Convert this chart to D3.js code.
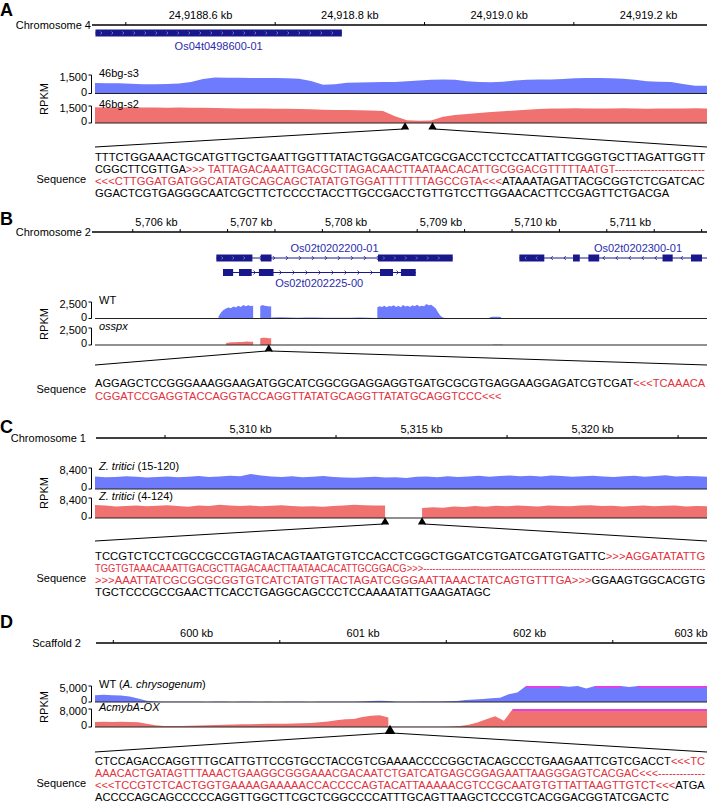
<!DOCTYPE html>
<html>
<head>
<meta charset="utf-8">
<script src="https://cdn.jsdelivr.net/npm/d3@7"></script>
<style>
  body { margin: 0; background: #fff; }
  svg { display: block; font-family: "Liberation Sans", Arial, Helvetica, sans-serif; }
</style>
</head>
<body>
<svg id="fig" width="708" height="802"></svg>
<script>
// ---------------- Panel A data ----------------
const domainA = [24918.4594, 24919.279];
const ticksA = [24918.6, 24918.8, 24919.0, 24919.2];
const tickLabelsA = ["24,9188.6 kb", "24,918.8 kb", "24,919.0 kb", "24,919.2 kb"];
const minorA = [24918.5, 24918.7, 24918.9, 24919.1];
const geneA = [[24918.46, 24918.79]];
// coverage, evenly binned across the view (RPKM)
const s3A = [860, 840, 830, 790, 760, 750, 780, 820, 930, 1170, 1290, 1280, 1280, 1260, 1260, 1250,
  1240, 1200, 1020, 700, 750, 870, 900, 920, 930, 940, 990, 1050, 1120, 1140, 1110, 990, 930, 920,
  960, 1050, 1110, 1130, 1140, 1170, 1230, 1260, 1250, 1230, 1200, 1110, 990, 960, 930, 780, 630, 630];
const s2A = [1380, 1370, 1360, 1380, 1370, 1360, 1350, 1360, 1350, 1340, 1320, 1300, 1290, 1280, 1270,
  1260, 1250, 1240, 1220, 1180, 1150, 1140, 1130, 1100, 1050, 600, 240, 190, 220, 560, 700, 800, 880,
  960, 1030, 1100, 1170, 1240, 1280, 1290, 1300, 1290, 1280, 1290, 1300, 1280, 1260, 1270, 1280, 1290, 1300, 1290];
const triA = [24918.8746, 24918.9114];
const seqA = [
  [["TTTCTGGAAACTGCATGTTGCTGAATTGGTTTATACTGGACGATCGCGACCTCCTCCATTATTCGGGTGCTTAGATTGGTT", 0]],
  [["CGGCTTCGTTGA", 0], [">>> TATTAGACAAATTGACGCTTAGACAACTTAATAACACATTGCGGACGTTTTTAATGT-------------------------", 1]],
  [["<<<CTTGGATGATGGCATATGCAGCAGCTATATGTGGATTTTTTTAGCCGTA<<<", 1], ["ATAAATAGATTACGCGGTCTCGATCAC", 0]],
  [["GGACTCGTGAGGGCAATCGCTTCTCCCCTACCTTGCCGACCTGTTGTCCTTGGAACACTTCCGAGTTCTGACGA", 0]]
];
const seqAFull = [true, true, true, false];

// ---------------- Panel B data ----------------
const domainB = [5705.357, 5711.812];
const ticksB = [5706, 5707, 5708, 5709, 5710, 5711];
const tickLabelsB = ["5,706 kb", "5,707 kb", "5,708 kb", "5,709 kb", "5,710 kb", "5,711 kb"];
const minorB = [5705.75, 5706.25, 5706.75, 5707.25, 5707.75, 5708.25, 5708.75, 5709.25, 5709.75, 5710.25, 5710.75, 5711.25, 5711.75];
const gene200Exons = [[5706.637, 5707.017], [5707.105, 5707.219], [5708.342, 5709.130]];
const gene225Exons = [[5706.707, 5706.814], [5706.876, 5707.010], [5707.086, 5707.240], [5708.363, 5708.500], [5708.584, 5708.740]];
const gene300Exons = [[5709.833, 5710.096], [5710.399, 5710.470], [5710.561, 5710.675], [5711.343, 5711.450], [5711.643, 5711.759]];
const wtB1 = [300, 900, 1300, 1500, 1650, 1550, 1800, 1650, 1950, 1750, 2050, 1850, 2000, 1900, 1950];
const wtB2 = [1850, 2050, 1950, 1900, 1800, 1850];
const wtB3 = [150, 180, 160, 120, 150, 140, 110, 130, 100, 120, 140, 100, 90];
const wtB4 = [1700, 1850, 1750, 1950, 1700, 1900, 1800, 2000, 1750, 1950, 1700, 2050, 1800, 1950, 1750,
  2000, 1850, 2100, 1800, 1950, 1850, 2200, 2000, 2100, 1800, 1500, 900, 400, 150, 80];
const wtB5 = [200, 260, 280, 250, 220];
const osspxB1 = [300, 380, 420, 400, 430, 450, 470, 500, 480, 460];
const osspxB2 = [1000, 1080, 1050, 1000, 980];
const osspxB3 = [60, 60, 60];
const triB = [5707.19];
const seqB = [
  [["AGGAGCTCCGGGAAAGGAAGATGGCATCGGCGGAGGAGGTGATGCGCGTGAGGAAGGAGATCGTCGAT", 0], ["<<<TCAAACA", 1]],
  [["CGGATCCGAGGTACCAGGTACCAGGTTATATGCAGGTTATATGCAGGTCCC<<<", 1]]
];
const seqBFull = [true, false];

// ---------------- Panel C data ----------------
const domainC = [5305.468, 5323.36];
const ticksC = [5310, 5315, 5320];
const tickLabelsC = ["5,310 kb", "5,315 kb", "5,320 kb"];
const minorC = [5307.5, 5312.5, 5317.5, 5322.5];
const ztC15 = [5000, 4700, 4800, 5100, 4900, 4600, 4800, 5000, 4700, 4900, 5200, 4800, 5000, 5300, 5100,
  6000, 5400, 5000, 4800, 5100, 4700, 4900, 5200, 4800, 4600, 4500, 4700, 4900, 4600, 4700, 4400, 4900,
  5000, 4700, 5100, 4800, 5000, 5300, 4900, 5200, 5400, 5100, 5300, 5000, 5400, 5200, 4900, 5100, 5300,
  5000, 4800, 5100, 5300, 4900, 5200, 5500, 5000, 5200, 5100, 4900];
const ztC4Left = [5500, 5200, 4800, 5000, 5300, 4900, 5100, 5400, 5000, 4700, 5200, 5000, 5600, 5300, 5000,
  5200, 4900, 5100, 5400, 5000, 4800, 4900, 4700, 5000, 5300, 5600, 5400, 5300, 5200];
const ztC4Right = [4200, 4500, 4300, 4800, 4600, 5000, 4700, 5100, 4900, 5200, 5000, 4800, 5300, 5000, 4900,
  5200, 5400, 5000, 5100, 4800, 5000, 5300, 4900, 5100, 5200, 4800, 5000, 4900];
const triC = [5313.948, 5315.03];
const seqC = [
  [["TCCGTCTCCTCGCCGCCGTAGTACAGTAATGTGTCCACCTCGGCTGGATCGTGATCGATGTGATTC", 0], [">>>AGGATATATTG", 1]],
  [["TGGTGTAAACAAATTGACGCTTAGACAACTTAATAACACATTGCGGACG>>>------------------------------------------------------------------------------------------", 1]],
  [[">>>AAATTATCGCGCGCGGTGTCATCTATGTTACTAGATCGGGAATTAAACTATCAGTGTTTGA>>>", 1], ["GGAAGTGGCACGTG", 0]],
  [["TGCTCCCGCCGAACTTCACCTGAGGCAGCCCTCCAAAATATTGAAGATAGC", 0]]
];
const seqCFull = [true, true, true, false];

// ---------------- Panel D data ----------------
const domainD = [599.393, 603.069];
const ticksD = [600, 601, 602, 603];
const tickLabelsD = ["600 kb", "601 kb", "602 kb", "603 kb"];
const minorD = [599.5, 600.5, 601.5, 602.5];
const wtD = [2100, 2300, 2100, 2000, 1700, 1100, 400, 150, 60, 40, 50, 60, 40, 30, 50, 40, 30, 40, 50, 30,
  40, 30, 40, 50, 40, 30, 40, 50, 40, 50, 60, 150, 350, 400, 300, 80, 40, 60, 150, 180, 150, 200, 350, 600,
  800, 900, 1200, 1300, 2400, 3000, 6000, 6000, 6000, 6000, 6000, 4800, 6000, 4200, 6000, 6000, 6000, 6000,
  4700, 6000, 6000, 6000, 6000, 6000, 6000, 6000, 6000, 6000];
const oxDLeft = [2200, 2300, 2200, 2300, 2200, 2100, 1500, 800, 500, 450, 500, 600, 700, 800, 900, 1000,
  1100, 1200, 1250, 1300, 1400, 1500, 1450, 1600, 1700, 1800, 2100, 2500, 3000, 3400, 3600, 4400, 5000, 5200, 4200];
const oxDRight = [100, 120, 100, 120, 100, 120, 150, 200, 500, 1000, 2000, 3500, 4800, 2800, 9000, 9000, 9000,
  9000, 9000, 9000, 9000, 9000, 9000, 9000, 9000, 9000, 9000, 9000, 9000, 9000, 9000, 9000, 9000, 9000, 9000, 9000, 9000];
const triD = [601.165];
const seqD = [
  [["CTCCAGACCAGGTTTGCATTGTTCCGTGCCTACCGTCGAAAACCCCGGCTACAGCCCTGAAGAATTCGTCGACCT", 0], ["<<<TC", 1]],
  [["AAACACTGATAGTTTAAACTGAAGGCGGGAAACGACAATCTGATCATGAGCGGAGAATTAAGGGAGTCACGAC<<<-------------", 1]],
  [["<<<TCCGTCTCACTGGTGAAAAGAAAAACCACCCCAGTACATTAAAAACGTCCGCAATGTGTTATTAAGTTGTCT<<<", 1], ["ATGA", 0]],
  [["ACCCCAGCAGCCCCCAGGTTGGCTTCGCTCGGCCCCATTTGCAGTTAAGCTCCCGTCACGGACGGTATCGACTC", 0]]
];
const seqDFull = [true, true, true, false];

// ---------------- drawing ----------------
const svg = d3.select("#fig");
const FONT = '"Liberation Sans", Arial, Helvetica, sans-serif';
const BLUE = "#6e7bfd", RED = "#f07270", NAVY = "#18188c", GENE_TXT = "#2b2bad";
const SEQ_RED = "#e3313d", CLIP = "#e040e8";
const X0 = 95, X1 = 707;

function drawAxis(p) {
  const g = svg.append("g");
  g.append("text").attr("x", 0).attr("y", p.letterY)
    .attr("font-size", 18).attr("font-weight", "bold").text(p.letter);
  g.append("text").attr("x", p.chromX).attr("y", p.axisY + 4)
    .attr("text-anchor", "end").attr("font-size", 11).text(p.chrom);
  g.append("line").attr("x1", p.axisX0).attr("x2", X1)
    .attr("y1", p.axisY).attr("y2", p.axisY)
    .attr("stroke", "#000").attr("stroke-width", 1.3);

  const major = d3.axisTop(p.x).tickValues(p.ticks).tickSize(0)
    .tickPadding(p.axisY - p.tickY).tickFormat((d, i) => p.tickLabels[i]);
  const ax = g.append("g").attr("transform", `translate(0,${p.axisY})`).call(major)
    .attr("font-family", FONT).attr("font-size", 11)
    .call(a => a.select(".domain").remove());
  // keep the last label inside the figure
  ax.selectAll("text").each(function () {
    const b = this.getBBox(), right = p.x(this.__data__) + b.x + b.width;
    if (right > 707) d3.select(this).attr("dx", 707 - right);
  });

  const minor = d3.axisTop(p.x).tickValues(p.minor).tickSize(3).tickFormat("");
  g.append("g").attr("transform", `translate(0,${p.axisY})`).call(minor)
    .call(a => a.select(".domain").remove());
}

function drawTrack(p, t) {
  const g = svg.append("g");
  const y = d3.scaleLinear().domain([0, t.max]).range([t.base, t.top]);
  t.segs.forEach(seg => {
    const n = seg.values.length;
    const pts = seg.values.map((v, i) => [seg.start + i * (seg.end - seg.start) / (n - 1), v]);
    const area = d3.area().x(d => p.x(d[0])).y0(t.base).y1(d => y(Math.min(d[1], t.max)));
    g.append("path").datum(pts).attr("d", area).attr("fill", t.color);
    const clip = d3.line().defined(d => d[1] > t.max).x(d => p.x(d[0])).y(t.top + 1);
    g.append("path").datum(pts).attr("d", clip).attr("fill", "none")
      .attr("stroke", CLIP).attr("stroke-width", 2);
  });
  g.append("line").attr("x1", X0).attr("x2", X1).attr("y1", t.base).attr("y2", t.base)
    .attr("stroke", "#222").attr("stroke-width", 1.2);

  // track name
  const nm = g.append("text").attr("x", 99).attr("y", t.top + 2).attr("font-size", 11);
  t.name.forEach(([s, it]) => nm.append("tspan").attr("font-style", it ? "italic" : "normal").text(s));

  // data range bracket
  g.append("path").attr("d", `M88.5,${t.top}H91.5V${t.base}H88.5`)
    .attr("fill", "none").attr("stroke", "#000").attr("stroke-width", 1);
  g.append("text").attr("x", 87).attr("y", t.top + 6).attr("text-anchor", "end")
    .attr("font-size", 11).text(t.maxLabel);
  g.append("text").attr("x", 87).attr("y", t.base + 2).attr("text-anchor", "end")
    .attr("font-size", 11).text("0");
}

function drawZoom(p) {
  const g = svg.append("g");
  const tri = d3.symbol(d3.symbolTriangle).size(p.triSize || 30);
  p.tri.forEach(k => {
    g.append("path").attr("d", tri).attr("transform", `translate(${p.x(k)},${p.triY + 3})`).attr("fill", "#000");
  });
  const xl = p.x(p.tri[0]), xr = p.x(p.tri[p.tri.length - 1]);
  g.append("line").attr("x1", xl - 2).attr("y1", p.triY + 5).attr("x2", X0).attr("y2", p.lineY)
    .attr("stroke", "#000").attr("stroke-width", 1);
  g.append("line").attr("x1", xr + 2).attr("y1", p.triY + 5).attr("x2", X1).attr("y2", p.lineY)
    .attr("stroke", "#000").attr("stroke-width", 1);
}

function drawSequence(p) {
  const g = svg.append("g");
  const W = X1 - X0 - 1;
  let ratio = 1;
  p.seq.forEach((row, i) => {
    const t = g.append("text").attr("x", 0).attr("y", 0).attr("font-size", 11);
    row.forEach(([s, red]) => t.append("tspan").attr("fill", red ? SEQ_RED : "#000").text(s));
    const natural = t.node().getComputedTextLength();
    if (i === 0) ratio = W / natural;
    const sx = p.full[i] ? W / natural : ratio;
    t.attr("transform", `translate(${X0},${p.rowY + i * p.rowDy}) scale(${sx},1)`);
  });
  g.append("text").attr("x", 86).attr("y", p.seqLabelY).attr("text-anchor", "end")
    .attr("font-size", 11).text("Sequence");
}

function drawRPKM(y) {
  svg.append("text").attr("transform", `translate(48,${y}) rotate(-90)`)
    .attr("text-anchor", "middle").attr("font-size", 11).text("RPKM");
}

function drawGene(p, exons, rowY, label, labelPos, labelY, dir, spanEnd) {
  const g = svg.append("g");
  const h = 7;
  const s = p.x(exons[0][0]), e = p.x(spanEnd ?? exons[exons.length - 1][1]);
  g.append("line").attr("x1", s).attr("x2", e).attr("y1", rowY).attr("y2", rowY)
    .attr("stroke", NAVY).attr("stroke-width", 1);
  // strand marks along the intron line
  g.selectAll(".ar").data(d3.range(s + 6, e - 3, 13)).join("path")
    .attr("d", d => dir > 0 ? `M${d - 1.5},${rowY - 2}L${d + 0.5},${rowY}L${d - 1.5},${rowY + 2}`
                             : `M${d + 1.5},${rowY - 2}L${d - 0.5},${rowY}L${d + 1.5},${rowY + 2}`)
    .attr("fill", "none").attr("stroke", NAVY).attr("stroke-width", 0.8);
  g.selectAll("rect").data(exons).join("rect")
    .attr("x", d => p.x(d[0])).attr("width", d => p.x(d[1]) - p.x(d[0]))
    .attr("y", rowY - h / 2).attr("height", h).attr("fill", NAVY);
  // faint strand marks inside long exons
  exons.forEach(d => {
    const a = p.x(d[0]), b = p.x(d[1]);
    if (b - a < 20) return;
    g.selectAll(null).data(d3.range(a + 6, b - 3, 11)).join("path")
      .attr("d", v => dir > 0 ? `M${v - 1},${rowY - 1.5}L${v + 0.5},${rowY}L${v - 1},${rowY + 1.5}`
                              : `M${v + 1},${rowY - 1.5}L${v - 0.5},${rowY}L${v + 1},${rowY + 1.5}`)
      .attr("fill", "none").attr("stroke", "#9a9ae0").attr("stroke-width", 0.7);
  });
  g.append("text").attr("x", p.x(labelPos)).attr("y", labelY).attr("text-anchor", "middle")
    .attr("fill", GENE_TXT).attr("font-size", 11).text(label);
}

// ---------- Panel A ----------
const pA = {
  letter: "A", letterY: 16, chrom: "Chromosome 4", chromX: 91, axisX0: 92, axisY: 25, tickY: 19,
  x: d3.scaleLinear().domain(domainA).range([X0, X1]),
  ticks: ticksA, tickLabels: tickLabelsA, minor: minorA,
  tri: triA, triY: 124, lineY: 147,
  seq: seqA, full: seqAFull, rowY: 161, rowDy: 12.1, seqLabelY: 183
};
drawAxis(pA);
drawGene(pA, geneA, 33, "Os04t0498600-01", (geneA[0][0] + geneA[0][1]) / 2, 50, 1);
drawTrack(pA, { segs: [{ start: domainA[0], end: domainA[1], values: s3A }], top: 75, base: 93.5, max: 1500,
  color: BLUE, name: [["46bg-s3", 0]], maxLabel: "1,500" });
drawTrack(pA, { segs: [{ start: domainA[0], end: domainA[1], values: s2A }], top: 106, base: 123, max: 1500,
  color: RED, name: [["46bg-s2", 0]], maxLabel: "1,500" });
drawRPKM(99);
drawZoom(pA);
drawSequence(pA);

// ---------- Panel B ----------
const pB = {
  letter: "B", letterY: 225, chrom: "Chromosome 2", chromX: 91, axisX0: 92, axisY: 232, tickY: 226,
  x: d3.scaleLinear().domain(domainB).range([X0, X1]),
  ticks: ticksB, tickLabels: tickLabelsB, minor: minorB,
  tri: triB, triY: 346, lineY: 365,
  seq: seqB, full: seqBFull, rowY: 387, rowDy: 12.6, seqLabelY: 393
};
drawAxis(pB);
drawGene(pB, gene200Exons, 258, "Os02t0202200-01", 5707.884, 252, 1);
drawGene(pB, gene225Exons, 272.5, "Os02t0202225-00", 5707.722, 287, 1);
drawGene(pB, gene300Exons, 258, "Os02t0202300-01", 5711.084, 252, -1, domainB[1]);
drawTrack(pB, { segs: [
    { start: 5706.66, end: 5707.025, values: wtB1 },
    { start: 5707.10, end: 5707.215, values: wtB2 },
    { start: 5707.215, end: 5708.335, values: wtB3 },
    { start: 5708.335, end: 5709.05, values: wtB4 },
    { start: 5709.52, end: 5709.64, values: wtB5 }],
  top: 302, base: 318.5, max: 2500, color: BLUE, name: [["WT", 0]], maxLabel: "2,500" });
drawTrack(pB, { segs: [
    { start: 5706.74, end: 5707.025, values: osspxB1 },
    { start: 5707.10, end: 5707.215, values: osspxB2 },
    { start: 5709.55, end: 5709.66, values: osspxB3 }],
  top: 328, base: 345, max: 2500, color: RED, name: [["osspx", 1]], maxLabel: "2,500" });
drawRPKM(324);
drawZoom(pB);
drawSequence(pB);

// ---------- Panel C ----------
const pC = {
  letter: "C", letterY: 433, chrom: "Chromosome 1", chromX: 86, axisX0: 96, axisY: 438, tickY: 433,
  x: d3.scaleLinear().domain(domainC).range([X0, X1]),
  ticks: ticksC, tickLabels: tickLabelsC, minor: minorC,
  tri: triC, triY: 519, lineY: 541,
  seq: seqC, full: seqCFull, rowY: 560, rowDy: 12.1, seqLabelY: 582
};
drawAxis(pC);
drawTrack(pC, { segs: [{ start: domainC[0], end: domainC[1], values: ztC15 }], top: 468, base: 489, max: 8400,
  color: BLUE, name: [["Z. tritici", 1], [" (15-120)", 0]], maxLabel: "8,400" });
drawTrack(pC, { segs: [
    { start: domainC[0], end: triC[0], values: ztC4Left },
    { start: triC[1], end: domainC[1], values: ztC4Right }],
  top: 498, base: 518, max: 8400, color: RED, name: [["Z. tritici", 1], [" (4-124)", 0]], maxLabel: "8,400" });
drawRPKM(493);
drawZoom(pC);
drawSequence(pC);

// ---------- Panel D ----------
const pD = {
  letter: "D", letterY: 628, chrom: "Scaffold 2", chromX: 81, axisX0: 96, axisY: 643, tickY: 637,
  x: d3.scaleLinear().domain(domainD).range([X0, X1]),
  ticks: ticksD, tickLabels: tickLabelsD, minor: minorD,
  tri: triD, triY: 728, triSize: 50, lineY: 752,
  seq: seqD, full: seqDFull, rowY: 765, rowDy: 12, seqLabelY: 787
};
drawAxis(pD);
drawTrack(pD, { segs: [{ start: domainD[0], end: domainD[1], values: wtD }], top: 686, base: 702, max: 5000,
  color: BLUE, name: [["WT (", 0], ["A. chrysogenum", 1], [")", 0]], maxLabel: "5,000" });
drawTrack(pD, { segs: [
    { start: domainD[0], end: 601.155, values: oxDLeft },
    { start: 601.16, end: domainD[1], values: oxDRight }],
  top: 709, base: 727, max: 8000, color: RED, name: [["AcmybA-OX", 1]], maxLabel: "8,000" });
drawRPKM(707);
drawZoom(pD);
drawSequence(pD);
</script>
</body>
</html>
